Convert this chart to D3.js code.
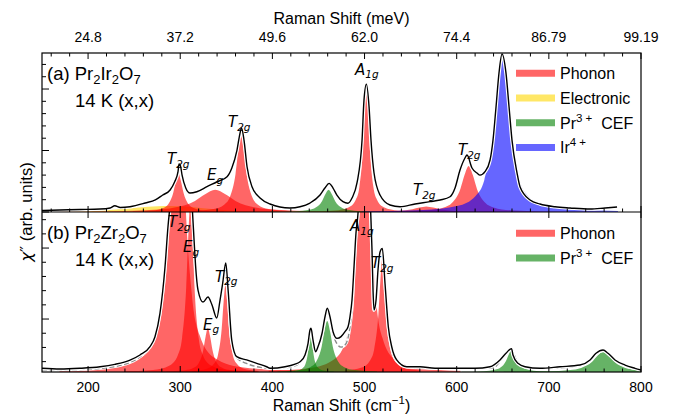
<!DOCTYPE html>
<html><head><meta charset="utf-8">
<script src="https://cdn.jsdelivr.net/npm/d3@7"></script>
<style>body{margin:0;background:#fff}</style>
</head><body><svg id="c" width="685" height="416"></svg>
<script>
// ---------- axis / tick data ----------
const xDomain = [150, 800];
const topTickCm = [200, 300, 400, 500, 600, 700, 800];
const topTickLabels = ["24.8", "37.2", "49.6", "62.0", "74.4", "86.79", "99.19"];
const bottomTicks = [200, 300, 400, 500, 600, 700, 800];
const minorTicksX = d3.range(160, 800, 20).filter(v => v % 100 !== 0);
const aTicksMajor = [0, 5, 10];
const aTicksMinor = [1,2,3,4,6,7,8,9,11,12];
const bTicksMajor = [3.73, 8.73];
const bTicksMinor = [0.73,1.73,2.73,4.73,5.73,6.73,7.73,9.73,10.73];

// ---------- panel (a) Pr2Ir2O7: measured spectrum ----------
const specA = [[150,0.12],[169.5,0.16],[191,0.2],[213,0.24],[224,0.33],[229,0.51],[235,0.37],[245.5,0.43],[262,0.73],[273,0.98],[281,1.38],[289,1.79],[294,2.46],[297.6,3.28],[298.7,3.9],[300.3,3.74],[302,3.0],[306,1.95],[310.6,1.54],[318,1.65],[329,2.06],[340,2.46],[350.8,2.87],[356,3.58],[361.6,5.04],[364.9,6.42],[366.5,6.83],[369.2,5.85],[372.5,3.68],[377.9,2.06],[386.6,1.14],[397.4,0.65],[419,0.33],[430,0.43],[440.8,0.73],[451.7,1.38],[457,1.95],[461.5,2.33],[465.8,1.95],[470,1.38],[476.6,0.84],[482,0.71],[486.4,1.14],[491.8,2.36],[497.3,5.85],[499.4,9.1],[502,10.4],[504.9,8.56],[507,5.85],[510.3,3.17],[516.8,1.38],[527.6,0.57],[538.5,0.43],[554.8,0.65],[571,0.84],[582,0.98],[592.8,1.24],[598.2,1.95],[603.6,3.41],[609,4.39],[611.2,4.63],[616.6,3.58],[622,3.17],[625.3,3.0],[630.7,3.28],[636.2,4.23],[639.4,5.85],[642.7,8.56],[645.9,11.3],[649.2,12.85],[653.5,11.3],[656.8,8.56],[660,5.85],[665.5,3.17],[668.7,2.06],[679.6,0.98],[690.4,0.65],[706.7,0.43],[723,0.33],[744.7,0.24],[761,0.33],[774,0.41]];

// panel (a) fitted components
const aElectronic = [[170,0.02],[200,0.07],[230,0.2],[255,0.36],[275,0.46],[290,0.48],[305,0.44],[325,0.3],[350,0.15],[380,0.06],[420,0.02],[470,0]];
const aT2g300 = [[248.5,0.04],[270.5,0.12],[281.5,0.32],[287,0.63],[292.5,1.58],[295.25,2.52],[298,3.15],[300.75,2.52],[303.5,1.58],[309,0.63],[314.5,0.32],[325.5,0.12],[347.5,0.04]];
const aEg340 = [[150,0.02],[228,0.07],[272,0.18],[294,0.36],[316,0.9],[327,1.44],[338,1.8],[349,1.44],[360,0.9],[382,0.36],[404,0.18],[448,0.07],[536,0.02]];
const aT2g366 = [[312,0.07],[336,0.24],[348,0.62],[354,1.24],[360,3.1],[363,4.96],[366,6.2],[369,4.96],[372,3.1],[378,1.24],[384,0.62],[396,0.24],[420,0.07]];
const aCEF461 = [[398,0.02],[426,0.07],[440,0.18],[447,0.36],[454,0.9],[457.5,1.44],[461,1.8],[464.5,1.44],[468,0.9],[475,0.36],[482,0.18],[496,0.07],[524,0.02]];
const aA1g502 = [[441.2,0.04],[467.8,0.12],[483,0.39],[490.6,1.02],[494.4,2.04],[498.2,5.1],[500.1,8.16],[502,10.2],[503.9,8.16],[505.8,5.1],[509.6,2.04],[513.4,1.02],[521,0.39],[536.2,0.12],[562.8,0.04]];
const aT2g567 = [[477,0.01],[492,0.02],[522,0.05],[537,0.09],[552,0.225],[559.5,0.36],[567,0.45],[574.5,0.36],[582,0.225],[597,0.09],[612,0.05],[642,0.02]];
const aT2g613 = [[469,0.015],[532,0.045],[568,0.14],[586,0.375],[595,0.75],[604,1.875],[608.5,3.0],[613,3.75],[617.5,3.0],[622,1.875],[631,0.75],[640,0.375],[658,0.14],[694,0.045],[757,0.015]];
const aIr649 = [[497,0.05],[563.5,0.16],[601.5,0.5],[620.5,1.3],[630,2.6],[639.5,6.5],[644.25,10.4],[649,13],[653.75,10.4],[658.5,6.5],[668,2.6],[677.5,1.3],[696.5,0.5],[734.5,0.16],[775,0.09]];

// ---------- panel (b) Pr2Zr2O7: measured spectrum ----------
const specB = [[150,0.26],[169.5,0.21],[191,0.26],[213,0.37],[229,0.54],[245.5,0.84],[256.3,1.2],[267.2,1.78],[272.6,2.48],[278,4.13],[283.5,7.41],[286.7,10.23],[289,11.76],[292,14],[298,17],[305,16],[310,13.5],[313.3,11.27],[315,9.3],[316.6,7.54],[319.3,5.77],[324.7,4.93],[330.1,5.28],[334.5,4.72],[339.6,3.8],[343.2,5.07],[346.1,6.27],[349.4,7.68],[352.2,5.56],[355.9,2.25],[361.3,1.08],[372.1,0.85],[383,0.61],[393.8,0.37],[397.4,0.26],[413.7,0.37],[424.6,0.56],[430,0.72],[435.4,1.2],[438.7,2.02],[440.8,2.96],[441.9,3.08],[444.1,2.25],[446.8,1.43],[449.5,1.78],[453.9,2.73],[457.1,3.89],[459.6,4.49],[462.5,3.89],[465.8,2.84],[470.1,2.37],[474.5,2.49],[478.8,2.84],[482.1,3.19],[484.2,3.89],[486.4,5.07],[488.6,7.42],[490.7,9.77],[492.9,11.18],[495,14],[500,17],[505,14],[506.7,11.2],[508.1,8.59],[509.2,5.77],[510.3,4.37],[512.5,5.07],[514.6,7.18],[516.8,8.45],[519.3,8.71],[522.2,6.25],[525.8,3.19],[529.5,1.78],[534.9,0.85],[545.8,0.37],[560.2,0.37],[576.5,0.26],[592.8,0.26],[603.6,0.26],[619.9,0.26],[636.2,0.37],[647,0.85],[653.5,1.32],[659.5,1.65],[661.1,1.2],[666.5,0.61],[674.2,0.37],[690.4,0.26],[712.1,0.37],[733.8,0.49],[744.7,0.85],[751.2,1.32],[758.8,1.55],[764.2,1.32],[771.8,0.85],[782.7,0.49],[793.5,0.26],[800,0.14]];
const fitB = [[150,0.15],[190,0.18],[220,0.3],[240,0.55],[255,1.0],[265,1.6],[272,2.4],[278,4.1],[283.5,7.3],[286.7,10.2],[289,11.8],[292,14],[298,17],[305,16],[310,13.5],[313.3,11.27],[315,9.3],[316.6,7.5],[319.3,5.8],[324.7,4.9],[330.1,5.25],[334.5,4.7],[339.6,3.8],[343.2,5.0],[346.1,6.25],[349.4,7.65],[352.2,5.5],[355.9,2.2],[361.3,1.0],[372,0.6],[385,0.35],[400,0.25],[415,0.3],[425,0.45],[432,0.8],[437,1.5],[440.8,2.9],[441.9,3.05],[444.1,2.2],[446.8,1.45],[449.5,1.75],[453.9,2.7],[457.1,3.85],[459.6,4.45],[462.5,3.85],[465.8,2.7],[470,2.0],[474.5,1.75],[478.8,1.9],[482.1,2.4],[485,3.6],[487,5.0],[488.6,7.4],[490.7,9.77],[492.9,11.18],[495,14],[500,17],[505,14],[506.7,11.2],[508.1,8.59],[509.2,5.77],[510.3,4.37],[512.5,5.07],[514.6,7.18],[516.8,8.45],[519.3,8.71],[522.2,6.25],[525.8,3.1],[529.5,1.6],[535,0.75],[546,0.35],[560,0.3],[600,0.22],[640,0.3],[647,0.75],[653.5,1.3],[659.5,1.6],[665,0.8],[675,0.35],[700,0.25],[730,0.4],[745,0.8],[751,1.25],[759,1.5],[766,1.2],[775,0.7],[790,0.3],[800,0.2]];

// panel (b) fitted components
const bT2g297 = [[169,0.1],[225,0.31],[257,1.0],[273,2.6],[281,5.2],[289,13],[293,20.8],[297,26],[301,20.8],[305,13],[313,5.2],[321,2.6],[337,1.0],[369,0.31],[425,0.1]];
const bEg311 = [[239,0.05],[270.5,0.14],[288.5,0.46],[297.5,1.2],[302,2.4],[306.5,6],[308.75,9.6],[311,12],[313.25,9.6],[315.5,6],[320,2.4],[324.5,1.2],[333.5,0.46],[351.5,0.14],[383,0.05]];
const bEg330 = [[285,0.04],[305,0.12],[315,0.31],[320,0.62],[325,1.55],[327.5,2.48],[330,3.1],[332.5,2.48],[335,1.55],[340,0.62],[345,0.31],[355,0.12],[375,0.04]];
const bT2g349 = [[313,0.07],[329,0.23],[337,0.61],[341,1.22],[345,3.05],[347,4.88],[349,6.1],[351,4.88],[353,3.05],[357,1.22],[361,0.61],[369,0.23],[385,0.07]];
const bCEF442 = [[416.3,0.03],[427.5,0.11],[433.1,0.29],[435.9,0.57],[438.7,1.43],[440.1,2.28],[441.5,2.85],[442.9,2.28],[444.3,1.43],[447.1,0.57],[449.9,0.29],[455.5,0.11],[466.7,0.03]];
const bCEF460 = [[405.5,0.04],[429.5,0.14],[441.5,0.36],[447.5,0.72],[453.5,1.8],[456.5,2.88],[459.5,3.6],[462.5,2.88],[465.5,1.8],[471.5,0.72],[477.5,0.36],[489.5,0.14],[513.5,0.04]];
const bA1g500 = [[396,0.09],[441.5,0.29],[467.5,0.92],[480.5,2.4],[487,4.8],[493.5,12],[496.75,19.2],[500,24],[503.25,19.2],[506.5,12],[513,4.8],[519.5,2.4],[532.5,0.92],[558.5,0.29],[604,0.09]];
const bT2g520 = [[479,0.1],[497,0.31],[506,0.81],[510.5,1.62],[515,4.05],[517.25,6.48],[519.5,8.1],[521.75,6.48],[524,4.05],[528.5,1.62],[533,0.81],[542,0.31],[560,0.1]];
const bCEF660 = [[605.5,0.02],[629.5,0.06],[641.5,0.155],[647.5,0.31],[653.5,0.78],[656.5,1.24],[659.5,1.55],[662.5,1.24],[665.5,0.78],[671.5,0.31],[677.5,0.155],[689.5,0.06],[713.5,0.02]];
const bCEF759 = [[651,0.018],[699,0.056],[723,0.145],[735,0.29],[747,0.725],[753,1.16],[759,1.45],[765,1.16],[771,0.725],[783,0.29],[795,0.145],[800,0.11]];

// peak annotations: [main, subscript, cm, value]
const aLabels = [["T","2g",285.6,3.9],["E","g",329,2.6],["T","2g",351.8,6.91],["A","1g",489.7,11.18],["T","2g",552.6,1.38],["T","2g",601.4,4.63]];
const bLabels = [["T","2g",286.7,10.21],["E","g",303,8.45],["T","2g",337.7,6.34],["E","g",324.7,2.96],["A","1g",484.2,9.93],["T","2g",507,7.32]];

const legendA = [["Phonon","phonon"],["Electronic","elec"],["Pr","cef","3+"," CEF"],["Ir","ir","4+",""]];
const legendB = [["Phonon","phonon"],["Pr","cef","3+"," CEF"]];

// ---------- styles ----------
const colors = {phonon:"#ff0000", elec:"#ffd700", cef:"#008000", ir:"#0000ff"};
const alpha = 0.6;
const sansFont = "'Liberation Sans', Arial, sans-serif";
const mathFont = "'DejaVu Sans', sans-serif";

const svg = d3.select("#c");
const L = 42, R = 641, aTop = 53, aBot = 212, bTop = 212, bBot = 372;
const x = d3.scaleLinear().domain(xDomain).range([L, R]);
const yA = d3.scaleLinear().domain([0, 12.93]).range([aBot, aTop]);
const yB = d3.scaleLinear().domain([0, 11.27]).range([bBot, bTop]);

const defs = svg.append("defs");
defs.append("clipPath").attr("id","clipA").append("rect").attr("x",L).attr("y",aTop).attr("width",R-L).attr("height",aBot-aTop);
defs.append("clipPath").attr("id","clipB").append("rect").attr("x",L).attr("y",bTop).attr("width",R-L).attr("height",bBot-bTop);

function drawPanel(clipId, y, comps, spec, fit) {
  const g = svg.append("g").attr("clip-path", `url(#${clipId})`);
  const area = d3.area().x(d=>x(d[0])).y0(y(0)).y1(d=>y(d[1])).curve(d3.curveMonotoneX);
  comps.forEach(([pts, key]) => {
    g.append("path").attr("d", area(pts)).attr("fill", colors[key]).attr("fill-opacity", alpha).attr("stroke","none");
  });
  const line = d3.line().x(d=>x(d[0])).y(d=>y(d[1])).curve(d3.curveMonotoneX);
  if (fit) {
    g.append("path").attr("d", line(fit)).attr("fill","none").attr("stroke","#ffffff").attr("stroke-width",3);
    g.append("path").attr("d", line(fit)).attr("fill","none").attr("stroke","#8c8c8c").attr("stroke-width",1.4).attr("stroke-dasharray","5,2.5");
  }
  g.append("path").attr("d", line(spec)).attr("fill","none").attr("stroke","#ffffff").attr("stroke-width",3.6).attr("stroke-linejoin","round");
  g.append("path").attr("d", line(spec)).attr("fill","none").attr("stroke","#000").attr("stroke-width",1.4).attr("stroke-linejoin","round");
}

drawPanel("clipA", yA, [[aElectronic,"elec"],[aT2g300,"phonon"],[aEg340,"phonon"],[aT2g366,"phonon"],[aA1g502,"phonon"],[aT2g567,"phonon"],[aT2g613,"phonon"],[aCEF461,"cef"],[aIr649,"ir"]], specA, null);
drawPanel("clipB", yB, [[bT2g297,"phonon"],[bEg311,"phonon"],[bEg330,"phonon"],[bT2g349,"phonon"],[bA1g500,"phonon"],[bT2g520,"phonon"],[bCEF442,"cef"],[bCEF460,"cef"],[bCEF660,"cef"],[bCEF759,"cef"]], specB, fitB);

// peak labels
function peakLabels(labels, y) {
  labels.forEach(([m, s, cm, v]) => {
    const t = svg.append("text").attr("x", x(cm)).attr("y", y(v)).attr("font-family", mathFont).attr("font-style","italic").attr("font-size", 15).attr("fill","#000");
    t.append("tspan").text(m);
    t.append("tspan").attr("font-size", 10.5).attr("dy", 3.5).text(s);
  });
}
peakLabels(aLabels, yA);
peakLabels(bLabels, yB);

// sample annotations
function sampleLabel(tag, el, yBase) {
  const fs = 18.5, fss = 13;
  const t = svg.append("text").attr("x", 47).attr("y", yBase).attr("font-family", sansFont).attr("font-size", fs);
  t.append("tspan").text(tag + " Pr");
  t.append("tspan").attr("font-size", fss).attr("dy", 4).text("2");
  t.append("tspan").attr("dy", -4).text(el);
  t.append("tspan").attr("font-size", fss).attr("dy", 4).text("2");
  t.append("tspan").attr("dy", -4).text("O");
  t.append("tspan").attr("font-size", fss).attr("dy", 4).text("7");
  svg.append("text").attr("x", 75).attr("y", yBase + 27).attr("font-family", sansFont).attr("font-size", fs).text("14 K (x,x)");
}
sampleLabel("(a)", "Ir", 79.5);
sampleLabel("(b)", "Zr", 238.5);

// legends
function legend(items, y0) {
  items.forEach((it, i) => {
    const yy = y0 + i * 24.7;
    svg.append("line").attr("x1", 516).attr("x2", 555).attr("y1", yy).attr("y2", yy).attr("stroke", colors[it[1]]).attr("stroke-opacity", alpha).attr("stroke-width", 7);
    const t = svg.append("text").attr("x", 560).attr("y", yy + 5.8).attr("font-family", sansFont).attr("font-size", 16);
    t.append("tspan").text(it[0]);
    if (it[2]) {
      t.append("tspan").attr("font-size", 11.5).attr("dy", -7).text(it[2].replace("+"," +"));
      t.append("tspan").attr("dy", 7).text(it[3] ? "\u00a0" + it[3] : "");
    }
  });
}
legend(legendA, 73.3);
legend(legendB, 233.3);

// frames
svg.append("rect").attr("x",L).attr("y",aTop).attr("width",R-L).attr("height",bBot-aTop).attr("fill","none").attr("stroke","#000").attr("stroke-width",1.2);
svg.append("line").attr("x1",L).attr("x2",R).attr("y1",aBot).attr("y2",aBot).attr("stroke","#000").attr("stroke-width",1.2);

// x ticks
const tk = svg.append("g").attr("stroke","#000").attr("stroke-width",1);
function xTicks(vals, y0, len) { vals.forEach(v => tk.append("line").attr("x1",x(v)).attr("x2",x(v)).attr("y1",y0).attr("y2",y0+len)); }
xTicks(topTickCm, aTop, 6); xTicks(minorTicksX, aTop, 3.5);
xTicks(bottomTicks, aBot, -6); xTicks(minorTicksX, aBot, -3.5);
xTicks(bottomTicks, bTop, 6);
xTicks(bottomTicks, bBot, -6); xTicks(minorTicksX, bBot, -3.5);
// y ticks
function yTicks(vals, y, len) { vals.forEach(v => tk.append("line").attr("x1",L).attr("x2",L+len).attr("y1",y(v)).attr("y2",y(v))); }
yTicks(aTicksMajor, yA, 7); yTicks(aTicksMinor, yA, 4);
yTicks(bTicksMajor, yB, 7); yTicks(bTicksMinor, yB, 4);

// tick labels
topTickCm.forEach((v,i) => svg.append("text").attr("x",x(v)).attr("y",42).attr("text-anchor","middle").attr("font-family",sansFont).attr("font-size",14).text(topTickLabels[i]));
bottomTicks.forEach(v => svg.append("text").attr("x",x(v)).attr("y",392).attr("text-anchor","middle").attr("font-family",sansFont).attr("font-size",14).text(v));

// axis titles
svg.append("text").attr("x",(L+R)/2).attr("y",24).attr("text-anchor","middle").attr("font-family",sansFont).attr("font-size",16).text("Raman Shift (meV)");
const bt = svg.append("text").attr("x",(L+R)/2).attr("y",411).attr("text-anchor","middle").attr("font-family",sansFont).attr("font-size",16);
bt.append("tspan").text("Raman Shift (cm");
bt.append("tspan").attr("font-size",11.5).attr("dy",-7).text("\u22121");
bt.append("tspan").attr("dy",7).text(")");
const yl = svg.append("text").attr("transform","translate(32,212) rotate(-90)").attr("text-anchor","middle").attr("font-family",sansFont).attr("font-size",16.5);
yl.append("tspan").attr("font-family",mathFont).attr("font-style","italic").text("\u03c7");
yl.append("tspan").attr("font-family",mathFont).text("\u2033");
yl.append("tspan").text(" (arb. units)");
</script></body></html>
